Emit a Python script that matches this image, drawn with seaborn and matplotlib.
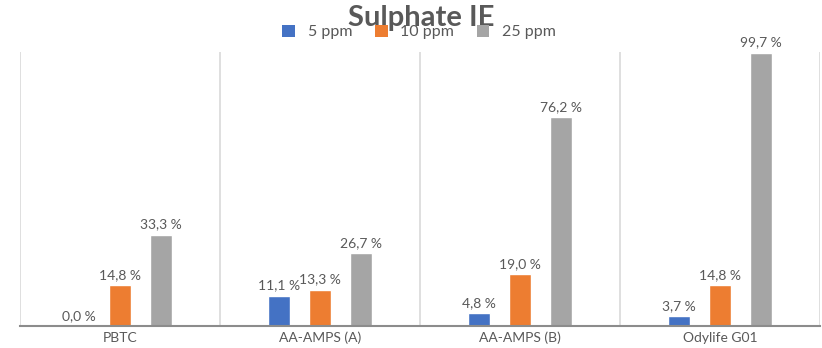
import matplotlib
matplotlib.use("Agg")
import matplotlib.pyplot as plt
from matplotlib.patches import Patch
from matplotlib.ticker import FixedLocator
import seaborn as sns
import pandas as pd

# Inhibition efficiency (%) per inhibitor and dosage
categories = ["PBTC", "AA-AMPS (A)", "AA-AMPS (B)", "Odylife G01"]
doses = ["5 ppm", "10 ppm", "25 ppm"]
ie_5ppm = [0.0, 11.1, 4.8, 3.7]
ie_10ppm = [14.8, 13.3, 19.0, 14.8]
ie_25ppm = [33.3, 26.7, 76.2, 99.7]
colors = ["#4472C4", "#ED7D31", "#A5A5A5"]

df = pd.DataFrame({
    "Inhibitor": categories * 3,
    "Dose": [d for d in doses for _ in categories],
    "IE": ie_5ppm + ie_10ppm + ie_25ppm,
})

sns.set_theme(style="white")
plt.rcParams["font.family"] = ["Lato", "DejaVu Sans"]
text_color = "#595959"

fig = plt.figure(figsize=(8.22, 3.48), dpi=100)
ax = fig.add_axes([20 / 822, 22 / 348, 800 / 822, 274 / 348])

sns.barplot(data=df, x="Inhibitor", y="IE", hue="Dose", order=categories,
            hue_order=doses, palette=colors, width=0.615, gap=0.46,
            saturation=1, ax=ax, legend=False)

for cont in ax.containers:
    labels = [f"{b.get_height():.1f} %".replace(".", ",") for b in cont]
    ax.bar_label(cont, labels=labels, padding=3, fontsize=10, color=text_color)

ax.set_xlim(-0.5, len(categories) - 0.5)
ax.set_ylim(0, 100)
ax.set_xlabel("")
ax.set_ylabel("")
ax.set_yticks([])
ax.tick_params(axis="x", length=0, pad=4, labelsize=10, labelcolor=text_color)

# separators between categories
ax.xaxis.set_minor_locator(FixedLocator([i - 0.5 for i in range(len(categories) + 1)]))
ax.grid(which="minor", axis="x", color="#D9D9D9", linewidth=1.2)
ax.grid(which="major", visible=False)
ax.set_axisbelow(True)
for s in ["top", "left", "right"]:
    ax.spines[s].set_visible(False)
ax.spines["bottom"].set_color("#8C8C8C")
ax.spines["bottom"].set_linewidth(1.5)

fig.text(0.512, 1 - 26 / 348, "Sulphate IE", ha="center", va="baseline",
         fontsize=21, fontweight="bold", color=text_color)

handles = [Patch(facecolor=c, edgecolor="none") for c in colors]
fig.legend(handles, doses, loc="center", bbox_to_anchor=(0.51, 1 - 32 / 348),
           ncol=3, frameon=False, fontsize=11.5, labelcolor=text_color,
           handlelength=0.8, handleheight=0.8, handletextpad=0.8,
           columnspacing=1.4, borderaxespad=0, borderpad=0)

fig.savefig("out.png", dpi=100, facecolor="white")
